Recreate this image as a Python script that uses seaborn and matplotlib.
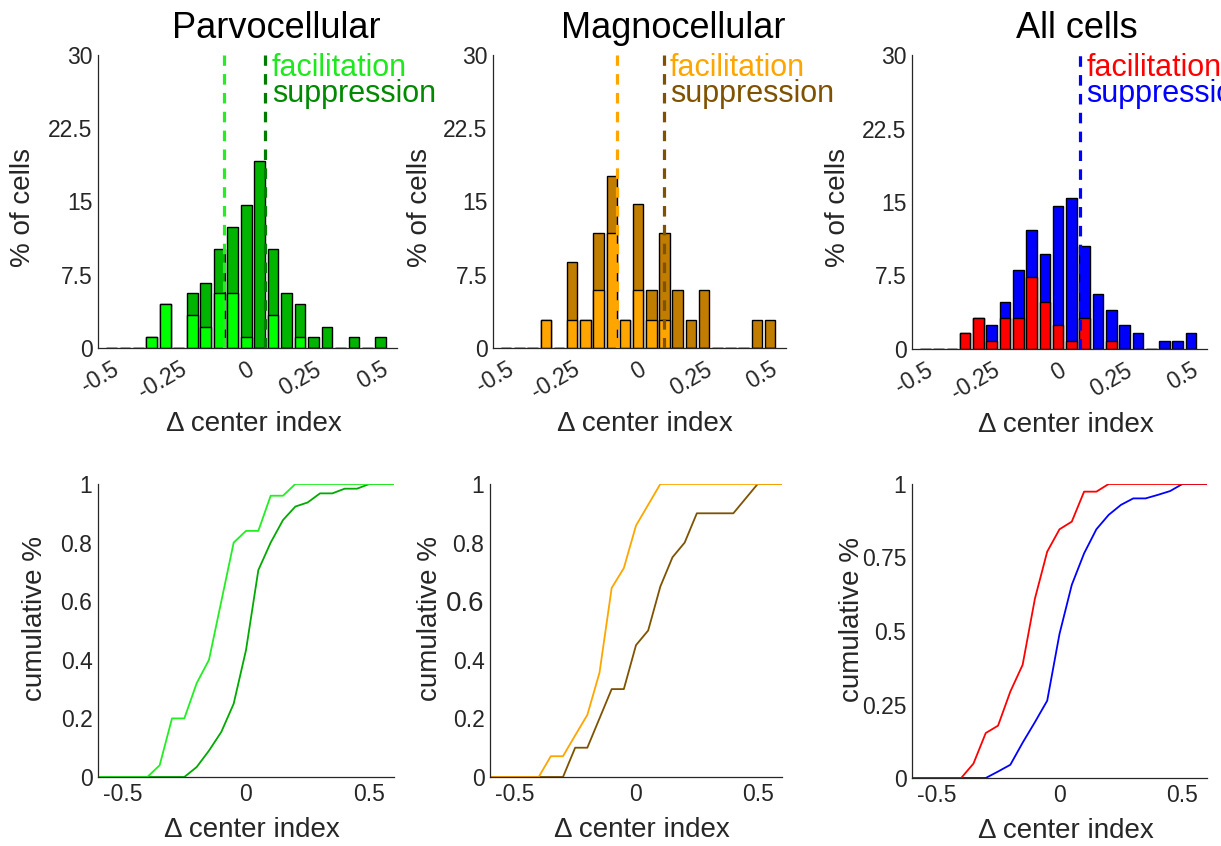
import matplotlib
matplotlib.use("Agg")
import matplotlib.pyplot as plt
import seaborn as sns

# ---------------- data ----------------
bins = [-0.5, -0.45, -0.4, -0.35, -0.3, -0.25, -0.2, -0.15, -0.1, -0.05, 0.0,
        0.05, 0.1, 0.15, 0.2, 0.25, 0.3, 0.35, 0.4, 0.45, 0.5]

parvo_total = [0, 0, 0, 1.1, 4.5, 0, 5.6, 6.7, 10.1, 12.4, 14.6,
               19.1, 10.1, 5.6, 4.5, 1.1, 2.2, 0, 1.1, 0, 1.1]
parvo_fac = [0, 0, 0, 1.1, 4.5, 0, 3.4, 2.2, 5.6, 5.6, 1.1,
             0, 3.4, 0, 1.1, 0, 0, 0, 0, 0, 0]

magno_total = [0, 0, 0, 2.9, 0, 8.8, 2.9, 11.8, 17.6, 2.9, 14.7,
               5.9, 11.8, 5.9, 2.9, 5.9, 0, 0, 0, 2.9, 2.9]
magno_fac = [0, 0, 0, 2.9, 0, 2.9, 2.9, 5.9, 11.8, 2.9, 5.9,
             2.9, 2.9, 0, 0, 0, 0, 0, 0, 0, 0]

all_total = [0, 0, 0, 1.6, 3.2, 2.4, 4.8, 8.1, 12.1, 9.7, 14.6,
             15.4, 10.5, 5.6, 4.0, 2.4, 1.6, 0, 0.8, 0.8, 1.6]
all_fac = [0, 0, 0, 1.6, 3.2, 0.8, 3.2, 3.2, 7.3, 4.8, 2.4,
           0.8, 3.2, 0, 0.8, 0, 0, 0, 0, 0, 0]

# medians (dashed lines)
parvo_medians = [-0.084, 0.071]
magno_medians = [-0.079, 0.096]
all_medians = [0.081]

# cumulative distributions
parvo_fac_cdf_x = [-0.6, -0.4, -0.35, -0.3, -0.25, -0.2, -0.15, -0.1, -0.05, 0.0, 0.05, 0.1, 0.15, 0.2, 0.6]
parvo_fac_cdf_y = [0, 0, 0.04, 0.2, 0.2, 0.32, 0.4, 0.6, 0.8, 0.84, 0.84, 0.96, 0.96, 1.0, 1.0]
parvo_sup_cdf_x = [-0.6, -0.25, -0.2, -0.15, -0.1, -0.05, 0.0, 0.05, 0.1, 0.15, 0.2, 0.25, 0.3, 0.35, 0.4, 0.45, 0.5, 0.6]
parvo_sup_cdf_y = [0, 0, 0.034, 0.09, 0.154, 0.25, 0.433, 0.706, 0.80, 0.877, 0.923, 0.937, 0.968, 0.968, 0.984, 0.984, 1.0, 1.0]

magno_fac_cdf_x = [-0.6, -0.4, -0.35, -0.3, -0.25, -0.2, -0.15, -0.1, -0.05, 0.0, 0.05, 0.1, 0.6]
magno_fac_cdf_y = [0, 0, 0.071, 0.071, 0.142, 0.212, 0.356, 0.645, 0.713, 0.858, 0.929, 1.0, 1.0]
magno_sup_cdf_x = [-0.6, -0.3, -0.25, -0.2, -0.15, -0.1, -0.05, 0.0, 0.05, 0.1, 0.15, 0.2, 0.25, 0.4, 0.5, 0.6]
magno_sup_cdf_y = [0, 0, 0.10, 0.10, 0.20, 0.30, 0.30, 0.45, 0.50, 0.65, 0.75, 0.80, 0.90, 0.90, 1.0, 1.0]

all_fac_cdf_x = [-0.6, -0.4, -0.35, -0.3, -0.25, -0.2, -0.15, -0.1, -0.05, 0.0, 0.05, 0.1, 0.15, 0.2, 0.6]
all_fac_cdf_y = [0, 0, 0.049, 0.153, 0.178, 0.294, 0.385, 0.61, 0.77, 0.846, 0.872, 0.974, 0.974, 1.0, 1.0]
all_sup_cdf_x = [-0.6, -0.3, -0.25, -0.2, -0.15, -0.1, -0.05, 0.0, 0.05, 0.1, 0.15, 0.2, 0.25, 0.3, 0.35, 0.4, 0.45, 0.5, 0.6]
all_sup_cdf_y = [0, 0, 0.022, 0.045, 0.12, 0.19, 0.263, 0.49, 0.657, 0.764, 0.846, 0.895, 0.929, 0.951, 0.951, 0.963, 0.976, 1.0, 1.0]

titles = ["Parvocellular", "Magnocellular", "All cells"]
hist_xticks = [-0.5, -0.25, 0, 0.25, 0.5]
hist_xticklabels = ["-0.5", "-0.25", "0", "0.25", "0.5"]
hist_yticks = [0, 7.5, 15, 22.5, 30]
hist_yticklabels = ["0", "7.5", "15", "22.5", "30"]
cdf_xticks = [-0.5, 0, 0.5]
cdf_xticklabels = ["-0.5", "0", "0.5"]
cdf_yticks_a = [0, 0.2, 0.4, 0.6, 0.8, 1]
cdf_yticklabels_a = ["0", "0.2", "0.4", "0.6", "0.8", "1"]
cdf_yticks_b = [0, 0.25, 0.5, 0.75, 1]
cdf_yticklabels_b = ["0", "0.25", "0.5", "0.75", "1"]

# ---------------- style ----------------
sns.set_theme(style="white")
plt.rcParams["font.family"] = ["Liberation Sans", "DejaVu Sans"]
TXT = "#262626"

W, H = 1221, 846
fig = plt.figure(figsize=(W / 100, H / 100), dpi=100)


def px_axes(x0, y_top, w, h):
    return fig.add_axes([x0 / W, 1 - (y_top + h) / H, w / W, h / H])


top_axes = [px_axes(98, 55, 299, 293), px_axes(493, 55, 293, 293), px_axes(912, 55, 295, 294)]
bot_axes = [px_axes(98, 484, 296, 293), px_axes(490, 484, 292, 293), px_axes(912, 484, 295, 294)]

hist_sets = [
    (parvo_total, parvo_fac, "#00b400", "#00ff00", parvo_medians, ["#22ee22", "#007d00"], ["#1ee81e", "#008a00"]),
    (magno_total, magno_fac, "#c17d00", "#ffa500", magno_medians, ["#ffa500", "#7f5200"], ["#ffa500", "#7f5200"]),
    (all_total, all_fac, "#0000ff", "#ff0000", all_medians, ["#0000ff"], ["#ff0000", "#0000ff"]),
]

title_cx = [276, 673, 1077]

for i, ax in enumerate(top_axes):
    total, fac, cdark, clight, meds, medcols, txtcols = hist_sets[i]
    sns.barplot(x=bins, y=total, native_scale=True, color=cdark, saturation=1,
                edgecolor="black", linewidth=1.0, width=0.8, errorbar=None, ax=ax)
    sns.barplot(x=bins, y=fac, native_scale=True, color=clight, saturation=1,
                edgecolor="black", linewidth=1.0, width=0.8, errorbar=None, ax=ax)
    for m, c in zip(meds, medcols):
        ax.axvline(m, color=c, lw=2.3, ls=(0, (3.3, 2.6)), zorder=5)
    xt = meds[-1] + 0.025
    ax.text(xt, 27.9, "facilitation", color=txtcols[0], fontsize=22, va="baseline", ha="left", clip_on=False)
    ax.text(xt, 25.2, "suppression", color=txtcols[1], fontsize=22, va="baseline", ha="left", clip_on=False)
    ax.set_xlim(-0.55, 0.56)
    ax.set_ylim(0, 30)
    ax.set_xticks(hist_xticks)
    ax.set_xticklabels(hist_xticklabels, rotation=30, ha="right", va="top", rotation_mode="anchor")
    ax.set_yticks(hist_yticks)
    ax.set_yticklabels(hist_yticklabels)
    ax.set_xlabel("Δ center index", fontsize=20, color=TXT)
    ax.set_ylabel("% of cells", fontsize=20, color=TXT)
    ax.xaxis.set_label_coords(0.52, -0.26)
    ax.xaxis.label.set_va("center")
    ax.yaxis.set_label_coords(-75 / 299, 0.48)
    ax.yaxis.label.set_va("center")
    sns.despine(ax=ax)
    fig.text(title_cx[i] / W, 1 - 38 / H, titles[i], fontsize=26, ha="center", va="baseline", color="black")

cdf_sets = [
    (parvo_fac_cdf_x, parvo_fac_cdf_y, parvo_sup_cdf_x, parvo_sup_cdf_y, "#22ee22", "#00aa00", cdf_yticks_a, cdf_yticklabels_a),
    (magno_fac_cdf_x, magno_fac_cdf_y, magno_sup_cdf_x, magno_sup_cdf_y, "#ffa500", "#7f5200", cdf_yticks_a, cdf_yticklabels_a),
    (all_fac_cdf_x, all_fac_cdf_y, all_sup_cdf_x, all_sup_cdf_y, "#ff0000", "#0000ff", cdf_yticks_b, cdf_yticklabels_b),
]
ylab_off = [-63, -60, -60]

for i, ax in enumerate(bot_axes):
    fx, fy, sx, sy, cf, cs, yt, ytl = cdf_sets[i]
    sns.lineplot(x=sx, y=sy, color=cs, lw=1.3, ax=ax)
    sns.lineplot(x=fx, y=fy, color=cf, lw=1.3, ax=ax)
    ax.set_xlim(-0.6, 0.6)
    ax.set_ylim(0, 1)
    ax.set_xticks(cdf_xticks)
    ax.set_xticklabels(cdf_xticklabels)
    ax.set_yticks(yt)
    ax.set_yticklabels(ytl)
    ax.set_xlabel("Δ center index", fontsize=20, color=TXT)
    ax.set_ylabel("cumulative %", fontsize=20, color=TXT)
    ax.xaxis.set_label_coords(0.52, -0.18)
    ax.xaxis.label.set_va("center")
    w = ax.get_position().width * W
    ax.yaxis.set_label_coords(ylab_off[i] / w, 0.54)
    ax.yaxis.label.set_va("center")
    sns.despine(ax=ax)

for ax in top_axes + bot_axes:
    ax.tick_params(direction="in", length=4, width=0.8, colors=TXT, labelsize=16.5, pad=4)
    for s in ["left", "bottom"]:
        ax.spines[s].set_color(TXT)
        ax.spines[s].set_linewidth(0.9)
for ax in top_axes:
    ax.tick_params(axis="x", pad=7)

# enlarged 0.6 label in the middle cumulative panel
for lbl in bot_axes[1].get_yticklabels():
    if lbl.get_text() == "0.6":
        lbl.set_fontsize(20)

fig.savefig("out.png", dpi=100)
